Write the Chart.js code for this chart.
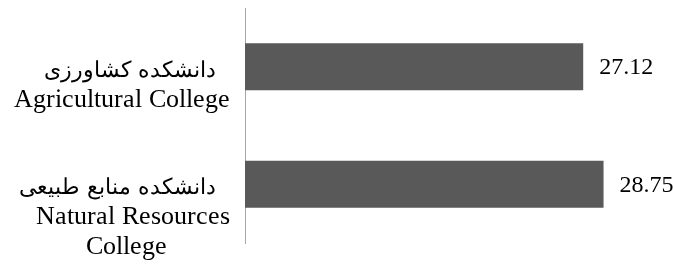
<!DOCTYPE html>
<html>
<head>
<meta charset="utf-8">
<script src="https://cdn.jsdelivr.net/npm/chart.js@4"></script>
<style>
  /* Latin from Liberation Serif, Persian from DejaVu Sans scaled down */
  @font-face {
    font-family: 'LabelFont';
    src: local('Liberation Serif');
    unicode-range: U+0000-05FF, U+2000-206F;
  }
  @font-face {
    font-family: 'LabelFont';
    src: local('DejaVu Sans');
    unicode-range: U+0600-06FF, U+FB50-FDFF, U+FE70-FEFF;
    size-adjust: 84%;
  }
  html, body { margin: 0; padding: 0; background: #fff; }
  #wrap { width: 674px; height: 266px; }
</style>
</head>
<body>
<div id="wrap"><canvas id="chartColleges"></canvas></div>
<script>
// labels: Persian line, English line(s)
const collegeLabels = [
    ['دانشکده کشاورزی  ', 'Agricultural College', ''],
    ['دانشکده منابع طبیعی  ', 'Natural Resources', 'College' + '\u00a0'.repeat(9)]
];
const collegeValues = [27.12, 28.75];
const axisMin = 0;
const axisMax = 34.4;

// value labels at the end of each bar
const valueLabels = {
    id: 'valueLabels',
    afterDatasetsDraw(chart) {
        const ctx = chart.ctx;
        const meta = chart.getDatasetMeta(0);
        ctx.save();
        ctx.font = '24px "Liberation Serif", "Times New Roman", serif';
        ctx.fillStyle = '#000';
        ctx.textAlign = 'left';
        ctx.textBaseline = 'middle';
        meta.data.forEach((bar, i) => {
            ctx.fillText(collegeValues[i].toFixed(2), bar.x + 16, bar.y + 1);
        });
        ctx.restore();
    }
};

function drawChart() {
    const ctx = document.getElementById('chartColleges').getContext('2d');
    new Chart(ctx, {
        type: 'bar',
        data: {
            labels: collegeLabels,
            datasets: [{
                data: collegeValues,
                backgroundColor: '#595959',
                barPercentage: 0.4,
                categoryPercentage: 1
            }]
        },
        options: {
            indexAxis: 'y',
            responsive: true,
            maintainAspectRatio: false,
            animation: false,
            layout: { padding: { top: 8, bottom: 23, left: 0, right: 0 } },
            plugins: {
                legend: { display: false },
                tooltip: { enabled: false }
            },
            scales: {
                x: {
                    display: false,
                    min: axisMin,
                    max: axisMax
                },
                y: {
                    afterFit(scale) {
                        scale.width = 245;
                        scale.paddingTop = 0;
                        scale.paddingBottom = 0;
                    },
                    grid: { display: false, drawTicks: false },
                    border: { display: true, color: '#a6a6a6', width: 1 },
                    ticks: {
                        color: '#000',
                        padding: 15,
                        labelOffset: 33,
                        font: { family: 'LabelFont, "Liberation Serif", serif', size: 26, lineHeight: 1.15 }
                    }
                }
            }
        },
        plugins: [valueLabels]
    });
}

Promise.all([
    document.fonts.load('26px LabelFont', 'Agricultural'),
    document.fonts.load('26px LabelFont', 'دانشکده')
]).then(drawChart, drawChart);
</script>
</body>
</html>
